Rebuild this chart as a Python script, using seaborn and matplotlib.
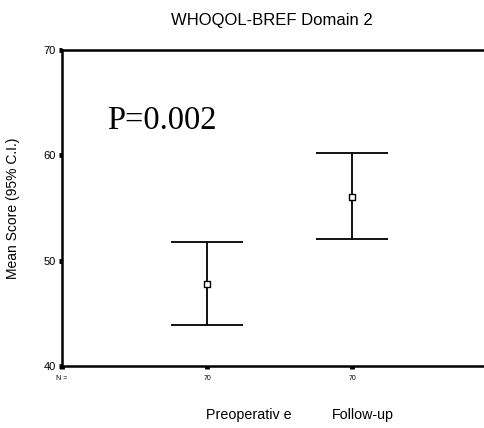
import matplotlib
matplotlib.use("Agg")
import matplotlib.pyplot as plt
import seaborn as sns
import pandas as pd

# Summary statistics per time point
groups = ["Preoperative", "Follow-up"]
group_labels = ["Preoperativ e", "Follow-up"]
positions = [1, 2]
means = [47.8, 56.0]
ci_low = [43.9, 52.1]
ci_high = [51.8, 60.2]
n_counts = [70, 70]
y_ticks = [40, 50, 60, 70]

df = pd.DataFrame({"pos": positions, "mean": means, "lo": ci_low, "hi": ci_high})

sns.set_style("white")
plt.rcParams["font.family"] = ["Liberation Sans", "DejaVu Sans"]
plt.rcParams.update({"text.color": "black", "axes.labelcolor": "black",
                     "xtick.color": "black", "ytick.color": "black"})

fig = plt.figure(figsize=(4.84, 4.28), dpi=100)
ax = fig.add_axes([62 / 484, 1 - 366 / 428, 1 - 62 / 484, 316 / 428])

# confidence interval whiskers with caps
cap = 0.25
ax.vlines(df["pos"], df["lo"], df["hi"], color="black", lw=1.3)
ax.hlines(df["lo"], df["pos"] - cap, df["pos"] + cap, color="black", lw=1.3)
ax.hlines(df["hi"], df["pos"] - cap, df["pos"] + cap, color="black", lw=1.3)

# mean markers
sns.scatterplot(data=df, x="pos", y="mean", marker="s", s=22,
                facecolor="white", edgecolor="black", linewidth=1.0,
                zorder=3, ax=ax, legend=False)

ax.set_xlim(0, 2.91)
ax.set_ylim(40, 70)
ax.set_yticks(y_ticks)
ax.set_yticklabels([str(v) for v in y_ticks], fontsize=8)
ax.set_xticks([0] + positions)
ax.set_xticklabels(["N ="] + [str(n) for n in n_counts], fontsize=5)
ax.tick_params(axis="both", bottom=True, left=True, direction="out",
               length=2.5, width=3.5, color="black", pad=2)
ax.tick_params(axis="x", pad=4)
ax.set_xlabel("")
ax.set_ylabel("Mean Score (95% C.I.)", fontsize=10)
ax.yaxis.set_label_coords(-42 / 422, 0.5)

for side in ["left", "bottom", "top"]:
    ax.spines[side].set_visible(True)
    ax.spines[side].set_color("black")
    ax.spines[side].set_linewidth(1.8)
ax.spines["right"].set_visible(False)

ax.text(0.31, 63.3, "P=0.002", fontsize=23.5, family=["Liberation Serif", "DejaVu Serif"],
        ha="left", va="center")

fig.text(272 / 484, 1 - 20 / 428, "WHOQOL-BREF Domain 2", fontsize=12, ha="center", va="center")

for lab, xp in zip(group_labels, [206, 332]):
    fig.text(xp / 484, 1 - 415 / 428, lab, fontsize=10.3, ha="left", va="center")

fig.savefig("out.png", dpi=100)
